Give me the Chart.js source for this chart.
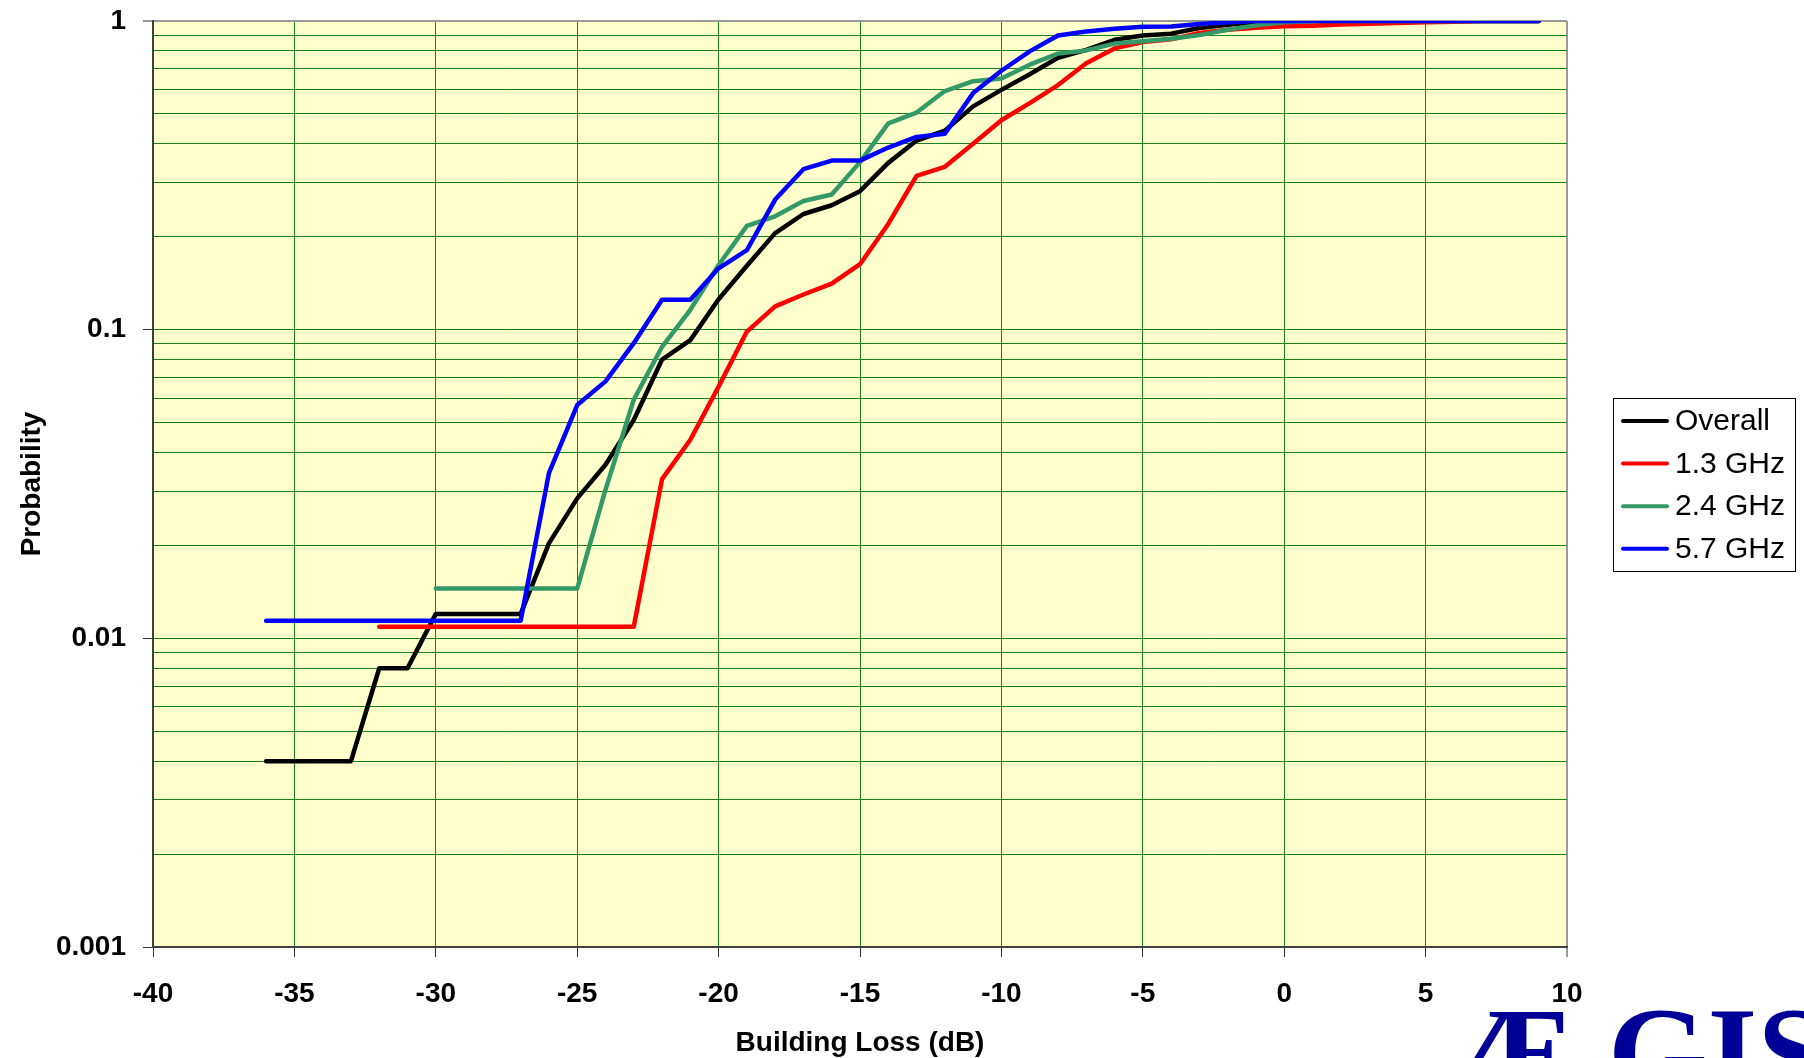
<!DOCTYPE html>
<html>
<head>
<meta charset="utf-8">
<title>Building Loss</title>
<script src="https://cdn.jsdelivr.net/npm/chart.js@4.4.1/dist/chart.umd.min.js"></script>
<style>
  html, body { margin: 0; padding: 0; background: #ffffff; }
  #chart { display: block; }
</style>
</head>
<body>
<canvas id="chart" width="1804" height="1058"></canvas>
<script>
// building loss in dB, one point per dB
const buildingLoss = [-36, -35, -34, -33, -32, -31, -30, -29, -28, -27, -26, -25, -24, -23, -22, -21,
  -20, -19, -18, -17, -16, -15, -14, -13, -12, -11, -10, -9, -8, -7, -6, -5, -4, -3, -2, -1,
  0, 1, 2, 3, 4, 5, 6, 7, 8, 9];

const overall = [0.004, 0.004, 0.004, 0.004, 0.008, 0.008, 0.012, 0.012, 0.012, 0.012,
  0.0203, 0.0284, 0.0365, 0.051, 0.080, 0.0925, 0.1255, 0.161, 0.2055, 0.237, 0.253, 0.281,
  0.347, 0.41, 0.441, 0.529, 0.598, 0.672, 0.76, 0.806, 0.869, 0.897, 0.91, 0.949, 0.973, 0.99,
  1, 1, 1, 1, 1, 1, 1, 1, 1, 1];

const ghz13 = [null, null, null, null, 0.0109, 0.0109, 0.0109, 0.0109, 0.0109, 0.0109,
  0.0109, 0.0109, 0.0109, 0.0109, 0.0328, 0.044, 0.0654, 0.0986, 0.119, 0.13, 0.141, 0.163,
  0.22, 0.315, 0.337, 0.40, 0.477, 0.542, 0.62, 0.73, 0.815, 0.855, 0.872, 0.914, 0.937, 0.95,
  0.961, 0.966, 0.974, 0.98, 0.985, 0.99, 0.995, 1, 1, 1];

const ghz24 = [null, null, null, null, null, null, 0.0145, 0.0145, 0.0145, 0.0145,
  0.0145, 0.0145, 0.0303, 0.0593, 0.088, 0.116, 0.162, 0.217, 0.233, 0.261, 0.274, 0.349,
  0.466, 0.505, 0.593, 0.638, 0.651, 0.722, 0.784, 0.803, 0.845, 0.86, 0.876, 0.9, 0.937, 0.968,
  0.99, 1, 1, 1, 1, 1, 1, 1, 1, 1];

const ghz57 = [0.0114, 0.0114, 0.0114, 0.0114, 0.0114, 0.0114, 0.0114, 0.0114, 0.0114, 0.0114,
  0.0343, 0.057, 0.068, 0.0904, 0.125, 0.125, 0.158, 0.181, 0.264, 0.331, 0.353, 0.353,
  0.389, 0.421, 0.431, 0.584, 0.69, 0.797, 0.898, 0.925, 0.944, 0.958, 0.96, 0.978, 0.99, 1,
  1, 1, 1, 1, 1, 1, 1, 1, 1, 1];

const seriesLabels = ['Overall', '1.3 GHz', '2.4 GHz', '5.7 GHz'];
const seriesColors = ['#000000', '#ff0000', '#339966', '#0000ff'];
const lossTicks = [-40, -35, -30, -25, -20, -15, -10, -5, 0, 5, 10];
const probabilityTicks = [0.001, 0.01, 0.1, 1];
const probabilityLabels = ['0.001', '0.01', '0.1', '1'];

const gridGreen = '#1a821a';
const font = '"Liberation Sans", Arial, sans-serif';

// log grid: 1..9 in every decade
const probGrid = [];
probabilityTicks.forEach((d, k) => {
  if (k === probabilityTicks.length - 1) {
    probGrid.push({ value: d, major: true, label: probabilityLabels[k] });
    return;
  }
  for (let m = 1; m <= 9; m++) {
    probGrid.push({ value: Number((m * d).toPrecision(6)), major: m === 1, label: m === 1 ? probabilityLabels[k] : '' });
  }
});

const allSeries = [overall, ghz13, ghz24, ghz57];

const chartStyle = {
  id: 'chartStyle',
  beforeDraw(chart) {
    const { ctx, chartArea: a } = chart;
    ctx.save();
    ctx.fillStyle = '#ffffcc';
    ctx.fillRect(a.left, a.top, a.right - a.left, a.bottom - a.top);
    ctx.restore();
  },
  afterDraw(chart) {
    const { ctx } = chart;
    ctx.save();
    // legend box
    const bx = 1613, by = 398, bw = 182, bh = 173;
    ctx.fillStyle = '#ffffff';
    ctx.fillRect(bx, by, bw, bh);
    ctx.strokeStyle = '#000000';
    ctx.lineWidth = 1;
    ctx.strokeRect(bx + 0.5, by + 0.5, bw, bh);
    ctx.font = '30px ' + font;
    ctx.textBaseline = 'middle';
    chart.data.datasets.forEach((ds, i) => {
      const y = 421 + i * 42.6;
      ctx.strokeStyle = ds.borderColor;
      ctx.lineWidth = 4;
      ctx.lineCap = 'round';
      ctx.beginPath();
      ctx.moveTo(1623, y);
      ctx.lineTo(1667, y);
      ctx.stroke();
      ctx.fillStyle = '#000000';
      ctx.fillText(ds.label, 1675, y + 1);
    });
    // logo
    ctx.fillStyle = '#000099';
    ctx.font = 'bold 128px "Liberation Serif", "Times New Roman", serif';
    ctx.textBaseline = 'alphabetic';
    ctx.fillText('Æ', 1447, 1095);
    ctx.fillText('GIS', 1608, 1095);
    ctx.restore();
  }
};

new Chart(document.getElementById('chart'), {
  type: 'line',
  data: {
    datasets: allSeries.map((s, i) => ({
      label: seriesLabels[i],
      data: buildingLoss.map((x, j) => ({ x: x, y: s[j] })),
      borderColor: seriesColors[i],
      backgroundColor: seriesColors[i],
      borderWidth: 4.5,
      borderCapStyle: 'round',
      borderJoinStyle: 'round',
      pointRadius: 0,
      tension: 0,
      fill: false,
      order: allSeries.length - i
    }))
  },
  options: {
    responsive: false,
    animation: false,
    layout: { padding: { left: 0, top: 21, right: 237, bottom: 0 } },
    plugins: {
      legend: { display: false },
      tooltip: { enabled: false }
    },
    scales: {
      x: {
        type: 'linear',
        min: -40,
        max: 10,
        afterBuildTicks: scale => { scale.ticks = lossTicks.map(v => ({ value: v })); },
        afterFit: scale => { scale.height = 111; },
        ticks: {
          autoSkip: false,
          maxRotation: 0,
          padding: 20,
          color: '#000000',
          font: { family: font, size: 28, weight: 'bold' }
        },
        grid: {
          color: c => (c.tick && c.tick.value === 10) ? '#999999' : gridGreen,
          lineWidth: c => (c.tick && c.tick.value === 10) ? 2 : 1,
          tickLength: 10,
          tickColor: '#333333',
          tickWidth: 1
        },
        border: { color: '#404040', width: 2 },
        title: {
          display: true,
          text: 'Building Loss (dB)',
          color: '#000000',
          font: { family: font, size: 28, weight: 'bold' },
          padding: { top: 0, bottom: -2 }
        }
      },
      y: {
        type: 'logarithmic',
        min: 0.001,
        max: 1,
        afterBuildTicks: scale => { scale.ticks = probGrid.map(t => ({ value: t.value, major: t.major })); },
        afterFit: scale => {
          scale.width = 153;
          scale.paddingTop = 0;
          scale.paddingBottom = 0;
        },
        ticks: {
          autoSkip: false,
          padding: 17,
          color: '#000000',
          font: { family: font, size: 28, weight: 'bold' },
          callback: (v, i) => probGrid[i].label
        },
        grid: {
          color: c => (c.tick && c.tick.value === 1) ? '#999999' : gridGreen,
          lineWidth: c => (c.tick && c.tick.value === 1) ? 2 : 1,
          tickLength: 10,
          tickColor: c => (c.tick && probGrid[c.index] && probGrid[c.index].major) ? '#333333' : 'rgba(0,0,0,0)',
          tickWidth: 1
        },
        border: { color: '#404040', width: 2 },
        title: {
          display: true,
          text: 'Probability',
          color: '#000000',
          font: { family: font, size: 28, weight: 'bold' },
          padding: { top: 15, bottom: 0 }
        }
      }
    }
  },
  plugins: [chartStyle]
});
</script>
</body>
</html>
